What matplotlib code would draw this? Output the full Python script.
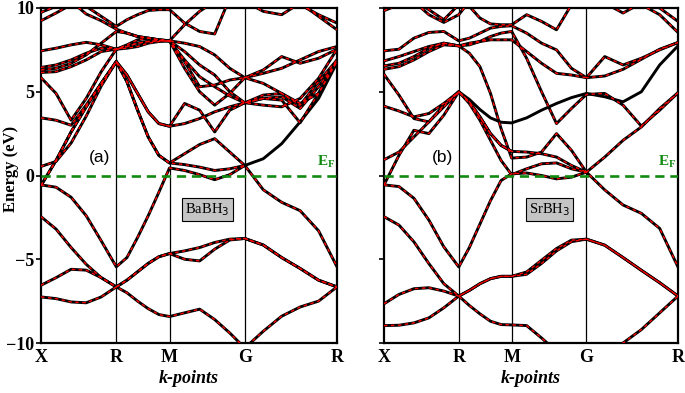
import numpy as np
import matplotlib
matplotlib.use("Agg")
import matplotlib.pyplot as plt

# ---------------- data ----------------
kpoint_labels = ["X", "R", "M", "G", "R"]
segment_lengths = [0.7071, 0.5, 0.7071, 0.8660]       # X-R, R-M, M-G, G-R
segment_fractions = [0.0, 0.2, 0.4, 0.6, 0.8, 1.0]    # sampling inside each segment
energy_ticks = [-10, -5, 0, 5, 10]
energy_ticklabels = ["\u221210", "\u22125", "0", "5", "10"]
panel_tags = ["(a)", "(b)"]
compounds = ["BaBH$_3$", "SrBH$_3$"]
nan = np.nan

# BaBH3 bands, energies (eV) at the 21 k samples
ba_b01 = [-7.25,-7.35,-7.55,-7.6,-7.25,-6.65, -7.0,-7.5,-7.95,-8.3,-8.42, -8.2,-7.98,-8.6,-9.4,-10.3, -9.3,-8.4,-7.85,-7.5,-6.65]
ba_b02 = [-6.55,-6.1,-5.6,-5.65,-6.1,-6.65, -6.25,-5.75,-5.25,-4.85,-4.66, -4.5,-4.3,-4.0,-3.8,-3.76, -4.15,-4.9,-5.55,-6.25,-6.65]
ba_b03 = [-2.46,-3.2,-4.3,-5.3,-6.1,-6.65, -6.25,-5.75,-5.25,-4.85,-4.66, -5.0,-5.1,-4.4,-3.85,-3.76, -4.15,-4.9,-5.55,-6.25,-6.65]
ba_b04 = [-0.56,-0.7,-1.3,-2.4,-3.9,-5.45, -4.9,-3.7,-2.4,-1.0,0.45, 0.3,0.05,-0.25,0.05,0.6, -0.85,-1.6,-2.1,-3.3,-5.45]
ba_b05 = [-0.6,0.9,2.6,4.1,5.5,6.8, 5.6,3.9,2.3,1.2,0.75, 1.3,1.85,2.2,1.4,0.6, 1.0,1.9,3.2,4.6,6.74]
ba_b06 = [0.54,0.84,1.94,3.54,5.34,6.8, 6.0,4.9,3.8,3.1,2.94, 4.3,3.9,2.6,3.9,4.34, 4.6,4.5,3.15,4.9,6.8]
ba_b07 = [5.84,4.9,3.3,4.6,6.2,7.54, 7.7,7.9,8.0,8.05,8.04, 7.4,6.6,6.0,5.0,4.34, 4.2,4.1,4.6,5.8,7.54]
ba_b08 = [7.44,7.6,7.8,7.95,7.8,7.54, 7.6,7.7,7.9,8.0,8.04, 7.9,7.7,7.2,6.4,5.84, 6.3,7.1,6.7,7.0,7.54]
ba_b09 = [6.45,6.6,6.9,7.3,7.6,7.54, 7.8,8.1,8.2,8.1,8.04, 6.9,5.9,5.3,4.75,4.34, 4.6,4.7,4.0,5.3,6.8]
ba_b10 = [6.3,6.4,6.7,7.2,7.9,8.6, 8.5,8.3,8.2,8.1,8.04, 6.8,5.3,5.4,5.7,5.84, 6.1,6.4,6.9,7.4,7.7]
ba_b11 = [6.15,6.2,6.5,6.9,7.4,7.54, 7.7,7.9,8.0,8.05,8.04, 6.4,5.0,4.2,4.9,5.84, 5.5,4.9,4.3,4.9,6.9]
ba_b12 = [3.44,3.3,3.0,4.2,5.5,6.8, 6.0,4.9,3.8,3.1,2.94, 3.1,3.4,3.8,4.1,4.34, 4.8,4.9,4.2,5.6,6.9]
ba_b13 = [-0.6,0.9,2.6,4.1,5.5,6.8, 5.6,3.9,2.3,1.2,0.75, 0.65,0.5,0.3,0.4,0.6, nan,nan,nan,nan,nan]
ba_b14 = [9.24,9.7,10.2,10.1,9.5,8.9, 9.3,9.6,9.85,9.9,9.9, 9.1,8.6,8.45,10.6,11.5, 11.0,10.5,10.2,9.6,9.1]
ba_b15 = [9.74,10.1,10.4,9.64,9.24,8.74, 8.5,8.3,8.2,8.1,8.04, 9.0,9.8,10.4,10.8,10.4, 9.8,9.6,10.3,9.5,8.7]

# SrBH3 bands
sr_b01 = [-8.96,-8.94,-8.8,-8.5,-7.9,-7.2, -7.76,-8.26,-8.7,-8.9,-8.92, -8.96,-9.7,-10.5,-11.2,-11.5, -10.8,-10.0,-9.2,-8.2,-7.2]
sr_b02 = [-7.66,-7.1,-6.76,-6.7,-6.9,-7.2, -6.86,-6.46,-6.16,-6.02,-6.02, -5.76,-5.06,-4.36,-3.86,-3.8, -4.16,-4.9,-5.66,-6.4,-7.2]
sr_b03 = [-2.46,-2.96,-3.96,-5.26,-6.46,-7.2, -6.86,-6.46,-6.16,-6.02,-6.02, -5.9,-5.25,-4.5,-3.95,-3.8, -4.16,-4.9,-5.66,-6.4,-7.2]
sr_b04 = [-0.56,-0.66,-1.36,-2.66,-4.26,-5.46, -4.3,-2.9,-1.5,-0.3,0.1, 0.15,0.0,-0.2,-0.1,0.2, -0.86,-1.76,-2.26,-3.16,-5.46]
sr_b05 = [-0.56,1.2,2.7,2.5,3.6,5.0, 4.3,3.3,2.1,0.9,0.05, 0.4,0.7,0.75,0.4,0.2, 1.1,2.1,2.9,4.0,4.94]
sr_b06 = [4.14,3.85,3.5,3.7,4.3,5.0, 4.54,3.94,3.44,3.18,3.14, 3.44,3.9,4.3,4.65,4.9, 4.7,4.4,5.0,6.6,7.74]
sr_b07 = [0.94,1.4,2.3,3.2,4.2,5.0, 4.4,3.5,2.5,1.8,1.44, 1.4,1.3,1.1,0.6,0.2, nan,nan,nan,nan,nan]
sr_b08 = [6.04,4.8,3.4,3.2,4.1,5.0, 4.4,3.5,2.5,1.8,1.44, nan,nan,nan,nan,nan, nan,nan,nan,nan,nan]
sr_b09 = [6.84,7.1,7.4,7.7,7.9,7.74, 7.3,6.5,4.9,2.8,1.04, 1.1,1.4,2.5,1.5,0.2, nan,nan,nan,nan,nan]
sr_b10 = [7.44,7.54,8.2,8.54,8.6,8.04, 8.2,8.5,8.8,8.9,8.94, 8.5,7.9,7.5,6.4,5.84, 5.94,6.34,6.94,7.54,7.94]
sr_b11 = [6.54,6.7,7.1,7.6,7.9,7.74, 7.9,8.0,8.1,8.1,8.1, 7.4,6.7,6.1,6.0,5.84, 7.1,6.6,7.0,7.5,7.94]
sr_b12 = [6.34,6.5,6.9,7.4,7.8,7.74, 7.8,8.0,8.3,8.5,8.6, 7.0,5.0,3.1,4.0,4.84, 4.9,4.2,2.95,3.9,4.94]
sr_b13 = [9.84,10.2,10.5,9.9,9.3,10.2, 10.1,9.4,9.05,9.0,9.0, 9.6,9.2,8.7,10.2,11.0, 10.3,9.7,10.3,10.0,9.2]
sr_b14 = [10.5,10.6,10.4,9.6,9.14,9.6, 10.4,10.8,11.0,11.0,11.0, 11.0,11.0,11.0,11.0,11.0, 10.8,10.5,10.2,9.6,8.54]

ba_bands = [ba_b01, ba_b02, ba_b03, ba_b04, ba_b05, ba_b06, ba_b07, ba_b08,
            ba_b09, ba_b10, ba_b11, ba_b12, ba_b13, ba_b14, ba_b15]
sr_bands = [sr_b01, sr_b02, sr_b03, sr_b04, sr_b05, sr_b06, sr_b07, sr_b08,
            sr_b09, sr_b10, sr_b11, sr_b12, sr_b13, sr_b14]
# portions drawn only in black (no red overlay): (band index, first k index)
ba_plain = {4: 15}
sr_plain = {5: 5}

# ---------------- k axis ----------------
knodes = np.concatenate([[0.0], np.cumsum(segment_lengths)])
kgrid = [0.0]
for i, L in enumerate(segment_lengths):
    for f in segment_fractions[1:]:
        kgrid.append(knodes[i] + f * L)
kgrid = np.array(kgrid)

serif = "Liberation Serif"
plt.rcParams["font.family"] = [serif, "DejaVu Serif"]

fig = plt.figure(figsize=(6.85, 3.93), dpi=100)
ax_l = fig.add_axes([41/685, 50/393, 296/685, 335/393])
ax_r = fig.add_axes([384/685, 50/393, 294/685, 335/393])

green = "#118a11"


def draw(ax, bands, plain, tag, compound, show_ylabels):
    for kx in knodes[1:-1]:
        ax.axvline(kx, color="black", lw=0.9, zorder=1)
    for bi, band in enumerate(bands):
        e = np.array(band, dtype=float)
        ax.plot(kgrid, e, color="black", lw=2.1, zorder=2,
                solid_joinstyle="round", solid_capstyle="round")
        er = e.copy()
        if bi in plain:
            er[plain[bi] + 1:] = np.nan
        ax.plot(kgrid, er, color="red", lw=1.0, dashes=(2.5, 2.5), zorder=3)
    ax.axhline(0, color=green, lw=1.9, dashes=(3.5, 2.2), zorder=4)
    ax.set_xlim(knodes[0], knodes[-1])
    ax.set_ylim(-10, 10)
    ax.set_xticks(knodes)
    ax.set_xticklabels(kpoint_labels, fontsize=13, fontweight="bold")
    ax.tick_params(axis="x", length=0, pad=4)
    ax.set_yticks(energy_ticks)
    ax.tick_params(axis="y", direction="out", length=3.5, width=1.2, pad=1.5)
    if show_ylabels:
        ax.set_yticklabels(energy_ticklabels, fontsize=13, fontweight="bold")
        ax.set_ylabel("Energy (eV)", fontsize=12, fontweight="bold")
        ax.yaxis.set_label_coords(-0.076, 0.52)
    else:
        ax.set_yticklabels([])
    ax.set_xlabel("k-points", fontsize=13, fontweight="bold", style="italic", labelpad=3.5)
    for sp in ax.spines.values():
        sp.set_linewidth(1.6)
    ax.text(0.55, 1.1, tag, fontsize=12.5, family="Liberation Sans", ha="center",
            va="center", zorder=5)
    ax.text(1.565, -2.05, compound, fontsize=10.5, ha="center", va="center", zorder=5,
            bbox=dict(boxstyle="square,pad=0.22", fc="#c4c4c4", ec="black", lw=0.8))
    ax.text(2.68, 0.3, "E$_\\mathregular{F}$", color=green, fontsize=11,
            fontweight="bold", ha="center", va="bottom", zorder=5)


draw(ax_l, ba_bands, ba_plain, panel_tags[0], compounds[0], True)
draw(ax_r, sr_bands, sr_plain, panel_tags[1], compounds[1], False)

fig.savefig("out.png", dpi=100)
